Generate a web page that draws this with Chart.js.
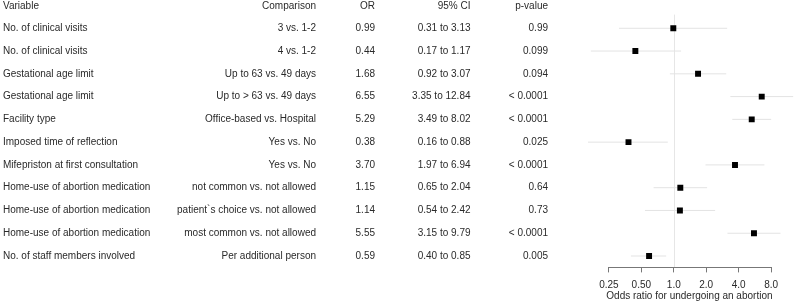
<!DOCTYPE html>
<html><head><meta charset="utf-8">
<script src="https://cdn.jsdelivr.net/npm/chart.js@4/dist/chart.umd.min.js"></script>
<style>html,body{margin:0;padding:0;background:#fff}canvas{display:block}</style>
</head><body>
<canvas id="c" width="798" height="305"></canvas>
<script>
const headers = ["Variable", "Comparison", "OR", "95% CI", "p-value"];
const variables = ["No. of clinical visits", "No. of clinical visits", "Gestational age limit", "Gestational age limit", "Facility type", "Imposed time of reflection", "Mifepriston at first consultation", "Home-use of abortion medication", "Home-use of abortion medication", "Home-use of abortion medication", "No. of staff members involved"];
const comparisons = ["3 vs. 1-2", "4 vs. 1-2", "Up to 63 vs. 49 days", "Up to > 63 vs. 49 days", "Office-based vs. Hospital", "Yes vs. No", "Yes vs. No", "not common vs. not allowed", "patient`s choice vs. not allowed", "most common vs. not allowed", "Per additional person"];
const orValues = [0.99, 0.44, 1.68, 6.55, 5.29, 0.38, 3.70, 1.15, 1.14, 5.55, 0.59];
const ciLower = [0.31, 0.17, 0.92, 3.35, 3.49, 0.16, 1.97, 0.65, 0.54, 3.15, 0.40];
const ciUpper = [3.13, 1.17, 3.07, 12.84, 8.02, 0.88, 6.94, 2.04, 2.42, 9.79, 0.85];
const pValues = ["0.99", "0.099", "0.094", "< 0.0001", "< 0.0001", "0.025", "< 0.0001", "0.64", "0.73", "< 0.0001", "0.005"];
const tickValues = [0.25, 0.5, 1, 2, 4, 8];
const tickLabels = ["0.25", "0.50", "1.0", "2.0", "4.0", "8.0"];
const axisTitle = "Odds ratio for undergoing an abortion";

const FONT = '"Liberation Sans", Arial, Helvetica, sans-serif';
const FS = 10;

const ciData = [];
orValues.forEach((v, i) => {
  ciData.push({x: ciLower[i], y: i}, {x: ciUpper[i], y: i}, {x: null, y: null});
});
const pointData = orValues.map((v, i) => ({x: v, y: i}));

const tablePlugin = {
  id: 'table',
  beforeDatasetsDraw(chart) {
    const {ctx, scales: {x, y}, chartArea} = chart;
    ctx.save();
    ctx.strokeStyle = '#e6e6e6';
    ctx.lineWidth = 1;
    const px = Math.round(x.getPixelForValue(1)) + 0.5;
    ctx.beginPath();
    ctx.moveTo(px, y.getPixelForValue(-0.6));
    ctx.lineTo(px, chartArea.bottom);
    ctx.stroke();
    ctx.restore();
  },
  afterDraw(chart) {
    const {ctx, scales: {x, y}, chartArea} = chart;
    ctx.save();
    ctx.strokeStyle = '#777';
    ctx.lineWidth = 1;
    const yb = Math.round(chartArea.bottom) + 0.5;
    ctx.beginPath();
    ctx.moveTo(x.getPixelForValue(tickValues[0]), yb);
    ctx.lineTo(x.getPixelForValue(tickValues[tickValues.length - 1]), yb);
    ctx.stroke();
    ctx.font = FS + 'px ' + FONT;
    ctx.fillStyle = '#2a2a2a';
    ctx.textBaseline = 'middle';
    const cols = [{x: 3, a: 'left'}, {x: 316, a: 'right'}, {x: 375, a: 'right'}, {x: 470.5, a: 'right'}, {x: 548, a: 'right'}];
    const hy = y.getPixelForValue(-0.95);
    headers.forEach((h, j) => {
      ctx.textAlign = cols[j].a;
      ctx.fillText(h, cols[j].x, hy);
    });
    orValues.forEach((v, i) => {
      const ry = y.getPixelForValue(i);
      const row = [variables[i], comparisons[i], v.toFixed(2), ciLower[i].toFixed(2) + ' to ' + ciUpper[i].toFixed(2), pValues[i]];
      row.forEach((t, j) => {
        ctx.textAlign = cols[j].a;
        ctx.fillText(t, cols[j].x, ry);
      });
    });
    ctx.restore();
  }
};

new Chart(document.getElementById('c'), {
  type: 'scatter',
  data: {
    datasets: [
      {
        data: pointData,
        pointStyle: 'rect',
        pointRadius: 4.2,
        backgroundColor: '#000',
        borderWidth: 0,
        order: 0
      },
      {
        type: 'line',
        data: ciData,
        borderColor: '#e3e3e3',
        borderWidth: 1,
        pointRadius: 0,
        spanGaps: false,
        showLine: true,
        fill: false,
        order: 1
      }
    ]
  },
  options: {
    responsive: false,
    animation: false,
    layout: {padding: {left: 585, right: 2, top: 5.5, bottom: 0}},
    plugins: {legend: {display: false}, tooltip: {enabled: false}},
    scales: {
      y: {type: 'linear', reverse: true, min: -1, max: 10.5, display: false},
      x: {
        type: 'logarithmic',
        min: 0.15,
        max: 13,
        afterBuildTicks: s => { s.ticks = tickValues.map(v => ({value: v})); },
        afterFit: s => { s.height = 37.6; },
        border: {display: false},
        grid: {drawOnChartArea: false, drawTicks: true, tickLength: 5, color: '#777', lineWidth: 1},
        ticks: {
          autoSkip: false, maxRotation: 0, padding: 7,
          font: {family: FONT, size: FS}, color: '#2a2a2a',
          callback: v => tickLabels[tickValues.indexOf(v)]
        },
        title: {display: true, text: axisTitle, font: {family: FONT, size: FS}, color: '#2a2a2a', padding: {top: 0, bottom: 2.5}}
      }
    }
  },
  plugins: [tablePlugin]
});
</script>
</body></html>
